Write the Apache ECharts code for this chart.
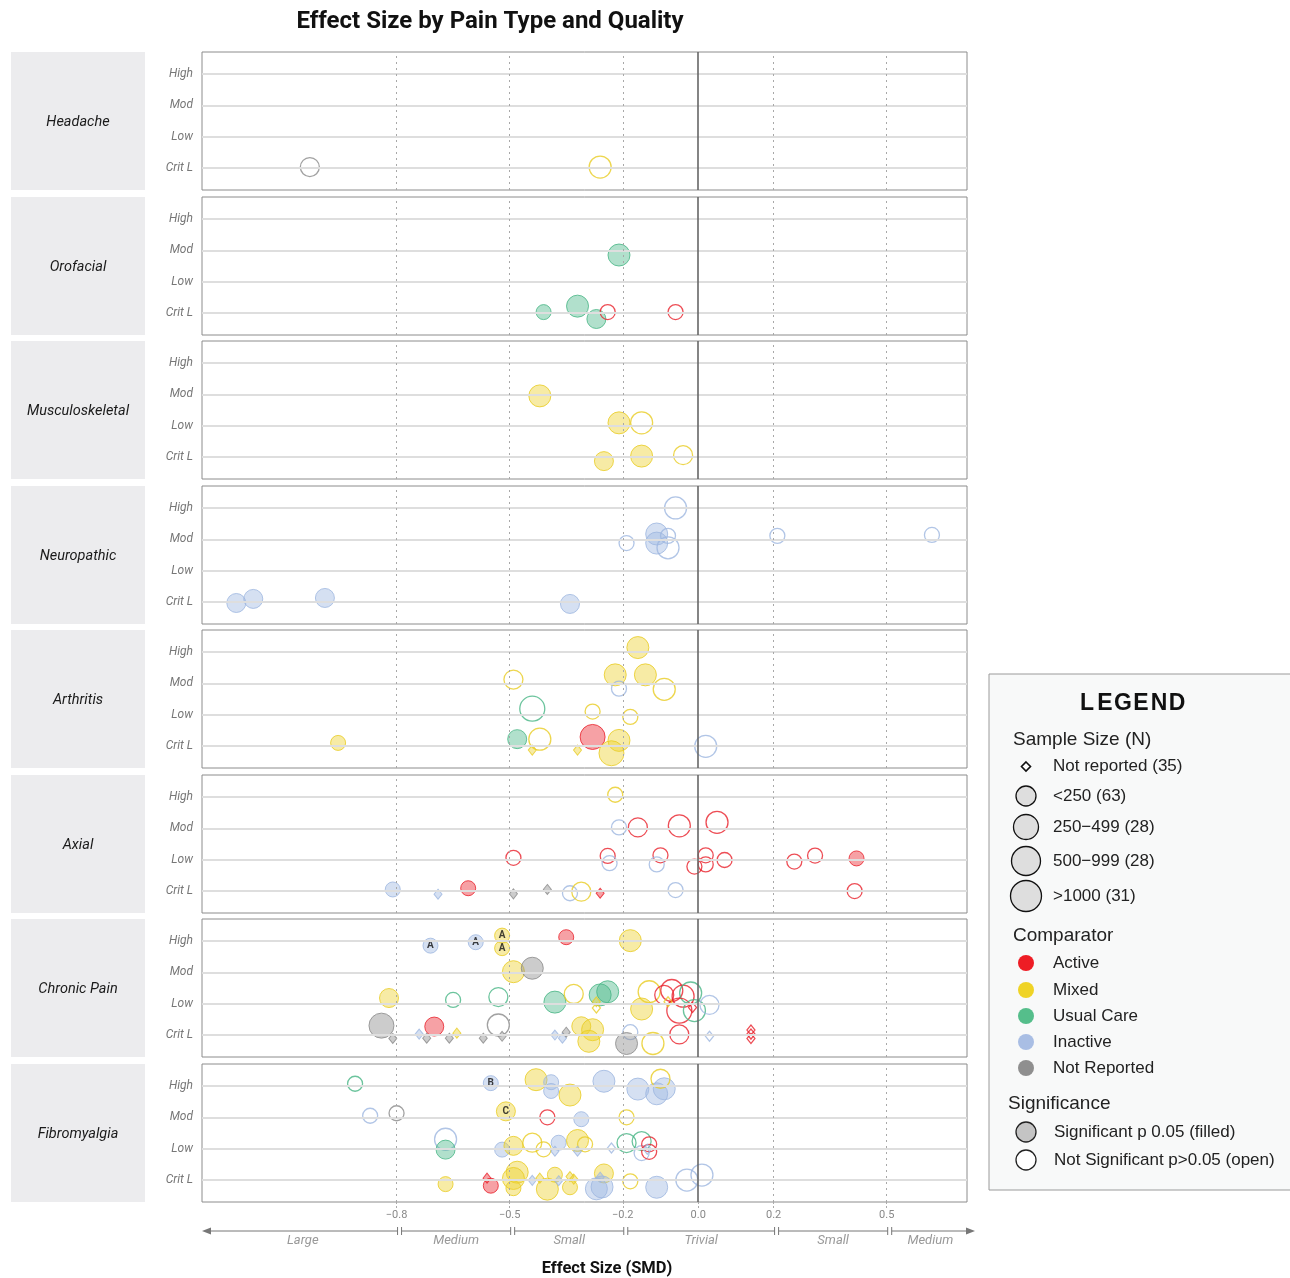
<!DOCTYPE html>
<html>
<head>
<meta charset="utf-8">
<title>Effect Size by Pain Type and Quality</title>
<script src="https://cdn.jsdelivr.net/npm/echarts@6/dist/echarts.min.js"></script>
<style>
  html, body { margin: 0; padding: 0; background: #fff; }
  #chart { width: 1290px; height: 1278px; }
</style>
</head>
<body>
<div id="chart"></div>
<script>
// ===== categories / ticks =====
const painTypes = ['Headache', 'Orofacial', 'Musculoskeletal', 'Neuropathic', 'Arthritis', 'Axial', 'Chronic Pain', 'Fibromyalgia']
const qualityLevels = ['Crit L', 'Low', 'Mod', 'High']   // y = 1..4
const effectTicks = [-0.8, -0.5, -0.2, 0, 0.2, 0.5]
const magnitudeBreaks = [-0.8, -0.5, -0.2, 0.2, 0.5]
const magnitudeLabels = ['Large', 'Medium', 'Small', 'Trivial', 'Small', 'Medium']
const sampleSizeLabels = ['Not reported (35)', '<250 (63)', '250\u2212499 (28)', '500\u2212999 (28)', '>1000 (31)']
const comparatorNames = ['Active', 'Mixed', 'Usual Care', 'Inactive', 'Not Reported']

// ===== data: [SMD, quality (jittered), N class 0..4 (0 = not reported), comparator, significant, tag] =====
const headache = [
  [-1.03, 1.03, 2, 'N', 0], [-0.26, 1.03, 3, 'M', 0],
]
const orofacial = [
  [-0.21, 2.85, 3, 'U', 1], [-0.41, 1.03, 1, 'U', 1], [-0.32, 1.22, 3, 'U', 1], [-0.27, 0.81, 2, 'U', 1],
  [-0.24, 1.03, 1, 'A', 0], [-0.06, 1.03, 1, 'A', 0],
]
const musculoskeletal = [
  [-0.42, 2.95, 3, 'M', 1], [-0.21, 2.09, 3, 'M', 1], [-0.15, 2.09, 3, 'M', 0],
  [-0.25, 0.87, 2, 'M', 1], [-0.15, 1.03, 3, 'M', 1], [-0.04, 1.06, 2, 'M', 0],
]
const neuropathic = [
  [-0.06, 4.0, 3, 'I', 0], [-0.11, 3.17, 3, 'I', 1], [-0.11, 2.88, 3, 'I', 1], [-0.08, 3.11, 1, 'I', 0],
  [-0.19, 2.88, 1, 'I', 0], [-0.08, 2.73, 3, 'I', 0], [0.21, 3.11, 1, 'I', 0], [0.62, 3.14, 1, 'I', 0],
  [-1.225, 0.97, 2, 'I', 1], [-1.18, 1.10, 2, 'I', 1], [-0.99, 1.13, 2, 'I', 1], [-0.34, 0.94, 2, 'I', 1],
]
const arthritis = [
  [-0.16, 4.14, 3, 'M', 1], [-0.22, 3.27, 3, 'M', 1], [-0.14, 3.27, 3, 'M', 1], [-0.09, 2.81, 3, 'M', 0],
  [-0.21, 2.83, 1, 'I', 0], [-0.49, 3.12, 2, 'M', 0], [-0.44, 2.19, 4, 'U', 0], [-0.28, 2.10, 1, 'M', 0],
  [-0.18, 1.93, 1, 'M', 0], [-0.48, 1.22, 2, 'U', 1], [-0.42, 1.22, 3, 'M', 0], [-0.28, 1.29, 4, 'A', 1],
  [-0.21, 1.18, 3, 'M', 1], [-0.23, 0.77, 4, 'M', 1], [-0.44, 0.87, 0, 'M', 1], [-0.32, 0.87, 0, 'M', 1],
  [0.02, 0.99, 3, 'I', 0], [-0.955, 1.1, 1, 'M', 1],
]
const axial = [
  [-0.22, 4.07, 1, 'M', 0], [-0.21, 3.03, 1, 'I', 0], [-0.16, 3.03, 2, 'A', 0], [-0.05, 3.08, 3, 'A', 0],
  [0.05, 3.19, 3, 'A', 0], [-0.49, 2.06, 1, 'A', 0], [-0.24, 2.12, 1, 'A', 0], [-0.235, 1.89, 1, 'I', 0],
  [-0.10, 2.14, 1, 'A', 0], [-0.11, 1.85, 1, 'I', 0], [0.02, 2.14, 1, 'A', 0], [0.02, 1.85, 1, 'A', 0],
  [-0.01, 1.78, 1, 'A', 0], [0.07, 1.99, 1, 'A', 0], [0.255, 1.94, 1, 'A', 0], [0.31, 2.13, 1, 'A', 0],
  [0.42, 2.04, 1, 'A', 1], [0.415, 1.0, 1, 'A', 0], [-0.81, 1.05, 1, 'I', 1], [-0.69, 0.9, 0, 'I', 1],
  [-0.61, 1.09, 1, 'A', 1], [-0.49, 0.91, 0, 'N', 1], [-0.40, 1.05, 0, 'N', 1], [-0.34, 0.93, 1, 'I', 0],
  [-0.31, 0.98, 2, 'M', 0], [-0.26, 0.93, 0, 'A', 1], [-0.06, 1.03, 1, 'I', 0],
]
const chronicPain = [
  [-0.71, 3.85, 1, 'I', 1, 'A'], [-0.59, 3.96, 1, 'I', 1, 'A'], [-0.52, 4.17, 1, 'M', 1, 'A'], [-0.52, 3.77, 1, 'M', 1, 'A'],
  [-0.35, 4.12, 1, 'A', 1], [-0.18, 4.01, 3, 'M', 1],
  [-0.49, 3.02, 3, 'M', 1], [-0.44, 3.13, 3, 'N', 1],
  [-0.82, 2.18, 2, 'M', 1], [-0.65, 2.12, 1, 'U', 0], [-0.53, 2.21, 2, 'U', 0], [-0.38, 2.05, 3, 'U', 1],
  [-0.33, 2.31, 2, 'M', 0], [-0.26, 2.28, 3, 'U', 1], [-0.24, 2.38, 3, 'U', 1], [-0.27, 2.06, 0, 'M', 1],
  [-0.27, 1.86, 0, 'M', 0], [-0.13, 2.38, 3, 'M', 0], [-0.15, 1.83, 3, 'M', 1], [-0.07, 2.42, 3, 'A', 0],
  [-0.09, 2.28, 2, 'A', 0], [-0.04, 2.24, 3, 'A', 0], [-0.02, 2.34, 3, 'U', 0], [-0.05, 1.78, 4, 'A', 0],
  [-0.01, 1.78, 3, 'U', 0], [-0.08, 2.06, 0, 'M', 0], [-0.015, 1.88, 0, 'A', 0], [0.03, 1.96, 2, 'I', 0],
  [-0.84, 1.30, 4, 'N', 1], [-0.70, 1.27, 2, 'A', 1], [-0.53, 1.32, 3, 'N', 0], [-0.81, 0.89, 0, 'N', 1],
  [-0.74, 1.03, 0, 'I', 1], [-0.72, 0.9, 0, 'N', 1], [-0.66, 0.9, 0, 'N', 1], [-0.64, 1.06, 0, 'M', 1],
  [-0.57, 0.9, 0, 'N', 1], [-0.52, 0.96, 0, 'N', 1], [-0.38, 1.0, 0, 'I', 1], [-0.36, 0.9, 0, 'I', 1],
  [-0.35, 1.09, 0, 'N', 1], [-0.31, 1.28, 2, 'M', 1], [-0.28, 1.17, 3, 'M', 1], [-0.29, 0.80, 3, 'M', 1],
  [-0.18, 1.09, 1, 'I', 0], [-0.19, 0.73, 3, 'N', 1], [-0.12, 0.73, 3, 'M', 0], [-0.05, 1.02, 2, 'A', 0],
  [0.03, 0.96, 0, 'I', 0], [0.14, 1.16, 0, 'A', 0], [0.14, 1.03, 0, 'A', 0], [0.14, 0.89, 0, 'A', 0],
]
const fibromyalgia = [
  [-0.91, 4.07, 1, 'U', 0], [-0.55, 4.09, 1, 'I', 1, 'B'], [-0.43, 4.20, 3, 'M', 1], [-0.39, 4.12, 1, 'I', 1],
  [-0.39, 3.84, 1, 'I', 1], [-0.34, 3.71, 3, 'M', 1], [-0.25, 4.15, 3, 'I', 1], [-0.16, 3.90, 3, 'I', 1],
  [-0.11, 3.75, 3, 'I', 1], [-0.09, 3.91, 3, 'I', 1], [-0.10, 4.23, 2, 'M', 0],
  [-0.87, 3.05, 1, 'I', 0], [-0.80, 3.13, 1, 'N', 0], [-0.51, 3.19, 2, 'M', 1, 'C'], [-0.40, 3.0, 1, 'A', 0],
  [-0.31, 2.94, 1, 'I', 1], [-0.19, 3.0, 1, 'M', 0],
  [-0.67, 2.30, 3, 'I', 0], [-0.67, 1.97, 2, 'U', 1], [-0.52, 1.97, 1, 'I', 1], [-0.49, 2.09, 2, 'M', 1],
  [-0.44, 2.19, 2, 'M', 0], [-0.41, 1.98, 1, 'M', 0], [-0.37, 2.19, 1, 'I', 1], [-0.38, 1.92, 0, 'I', 1],
  [-0.32, 2.26, 3, 'M', 1], [-0.30, 2.14, 1, 'M', 0], [-0.32, 1.92, 0, 'I', 1], [-0.23, 2.02, 0, 'I', 0],
  [-0.19, 2.18, 2, 'U', 0], [-0.15, 2.24, 2, 'U', 0], [-0.15, 1.86, 1, 'I', 0], [-0.13, 2.14, 1, 'A', 0],
  [-0.13, 1.90, 1, 'A', 0], [-0.135, 1.98, 0, 'I', 0],
  [-0.67, 0.87, 1, 'M', 1], [-0.56, 1.06, 0, 'A', 1], [-0.55, 0.82, 1, 'A', 1], [-0.48, 1.25, 3, 'M', 1],
  [-0.49, 1.05, 3, 'M', 1], [-0.49, 0.74, 1, 'M', 1], [-0.44, 0.99, 0, 'I', 1], [-0.42, 1.06, 0, 'M', 1],
  [-0.40, 0.71, 3, 'M', 1], [-0.38, 1.17, 1, 'M', 1], [-0.37, 0.98, 0, 'I', 1], [-0.34, 0.77, 1, 'M', 1],
  [-0.34, 1.11, 0, 'M', 1], [-0.33, 1.03, 0, 'M', 1], [-0.25, 1.21, 2, 'M', 1], [-0.26, 1.09, 0, 'I', 1],
  [-0.27, 0.72, 3, 'I', 1], [-0.255, 0.78, 3, 'I', 1], [-0.18, 0.96, 1, 'M', 0], [-0.11, 0.77, 3, 'I', 1],
  [-0.03, 1.0, 3, 'I', 0], [0.01, 1.16, 3, 'I', 0],
]
const panelData = [headache, orofacial, musculoskeletal, neuropathic, arthritis, axial, chronicPain, fibromyalgia]

// ===== styles =====
const COMP = {
  A: { line: '#E8202A', fill: 'rgba(235,40,50,0.55)', key: '#EE1D25' },
  M: { line: '#E9CC22', fill: 'rgba(236,210,50,0.55)', key: '#EFD326' },
  U: { line: '#47B584', fill: 'rgba(77,185,138,0.55)', key: '#55BE8B' },
  I: { line: '#9DB6E0', fill: 'rgba(160,184,226,0.55)', key: '#A9BEE4' },
  N: { line: '#8A8A8A', fill: 'rgba(140,140,140,0.55)', key: '#8F8F8F' },
}
const compKeys = ['A', 'M', 'U', 'I', 'N']
const SIZE = [0, 15, 19, 22, 25]
const X_MIN = -1.316, X_MAX = 0.713
const FONT = 'Roboto, "Liberation Sans", sans-serif'
const LFONT = '"Liberation Sans", Arial, sans-serif'

const panelTop = i => 52 + Math.round(i * 144.57)
const PANEL_H = 138
const GRID_L = 202, GRID_W = 765

function fmtTick(v) {
  const s = Math.abs(v).toFixed(1)
  return v < 0 ? '\u2212' + s : s
}

function toItem(p) {
  const [x, y, n, comp, sig, tag] = p
  const c = COMP[comp]
  const item = {
    value: [x, y],
    symbol: n === 0 ? 'diamond' : 'circle',
    symbolSize: n === 0 ? [8, 10] : SIZE[n],
    itemStyle: {
      color: sig ? c.fill : 'rgba(255,255,255,0)',
      borderColor: c.line,
      borderWidth: sig ? 1 : 1.3,
    },
  }
  if (tag) {
    item.label = { show: true, position: 'inside', formatter: tag, color: '#111', fontSize: 10, fontWeight: 'bold', fontFamily: FONT }
  }
  return item
}

const grid = [], xAxis = [], yAxis = [], series = []
painTypes.forEach((name, i) => {
  const isLast = i === painTypes.length - 1
  grid.push({ left: GRID_L, width: GRID_W, top: panelTop(i), height: PANEL_H, show: true, borderColor: '#8c8c8c', borderWidth: 1, backgroundColor: '#fff' })
  xAxis.push({
    gridIndex: i, type: 'value', min: X_MIN, max: X_MAX,
    splitLine: { show: false }, axisLine: { show: false },
    axisTick: { show: isLast, customValues: effectTicks, length: 7, lineStyle: { color: '#aaa', type: [2, 2] } },
    axisLabel: { show: isLast, customValues: effectTicks, formatter: fmtTick, color: '#888', fontSize: 11, fontFamily: FONT, margin: 8 },
  })
  yAxis.push({
    gridIndex: i, type: 'value', min: 0.3, max: 4.7,
    splitLine: { show: false }, axisLine: { show: false },
    axisTick: { show: true, customValues: [1, 2, 3, 4], length: 3, lineStyle: { color: '#333' } },
    axisLabel: { customValues: [1, 2, 3, 4], formatter: v => qualityLevels[Math.round(v) - 1], color: '#777', fontSize: 12, fontStyle: 'italic', fontFamily: FONT, margin: 9 },
  })
  // reference lines
  series.push({
    type: 'scatter', xAxisIndex: i, yAxisIndex: i, data: [], z: 1, silent: true,
    markLine: {
      silent: true, symbol: 'none', label: { show: false }, animation: false,
      data: [
        ...qualityLevels.map((_, k) => ({ yAxis: k + 1, lineStyle: { color: '#dedede', width: 2, type: 'solid' } })),
        ...effectTicks.filter(v => v !== 0).map(v => ({ xAxis: v, lineStyle: { color: '#a8a8a8', width: 1, type: [2, 4] } })),
        { xAxis: 0, lineStyle: { color: '#666', width: 1.6, type: 'solid' } },
      ],
    },
  })
  series.push({
    name, type: 'scatter', xAxisIndex: i, yAxisIndex: i, z: 3,
    data: panelData[i].map(toItem),
  })
})

// ===== strips, title, legend =====
const graphic = []
painTypes.forEach((name, i) => {
  graphic.push({ type: 'rect', shape: { x: 11, y: panelTop(i), width: 134, height: PANEL_H }, style: { fill: '#ECECEE' }, silent: true })
  graphic.push({ type: 'text', x: 78, y: panelTop(i) + PANEL_H / 2 + 1, style: { text: name, fill: '#1a1a1a', font: 'italic 14.5px ' + FONT, textAlign: 'center', textVerticalAlign: 'middle' } })
})
graphic.push({ type: 'text', x: 490, y: 22, style: { text: 'Effect Size by Pain Type and Quality', fill: '#111', font: 'bold 24px ' + FONT, textAlign: 'center', textVerticalAlign: 'middle' } })
graphic.push({ type: 'text', x: 607, y: 1269, style: { text: 'Effect Size (SMD)', fill: '#111', font: 'bold 16.5px ' + FONT, textAlign: 'center', textVerticalAlign: 'middle' } })

// legend box
const LX = 1026, TX = 1053
graphic.push({ type: 'rect', shape: { x: 989, y: 674, width: 320, height: 516 }, style: { fill: '#F8F9F9', stroke: '#9a9a9a', lineWidth: 1 }, silent: true })
'LEGEND'.split('').forEach((ch, k) => {
  graphic.push({ type: 'text', x: 1087 + k * 18, y: 704, style: { text: ch, fill: '#111', font: 'bold 23px ' + LFONT, textAlign: 'center', textVerticalAlign: 'middle' } })
})
const legendText = (x, y, text, size) => ({ type: 'text', x, y, style: { text, fill: '#222', font: size + 'px ' + LFONT, textVerticalAlign: 'middle' } })
graphic.push(legendText(1013, 740, 'Sample Size (N)', 19))
graphic.push({ type: 'polygon', shape: { points: [[LX, 762], [LX + 4.5, 766.5], [LX, 771], [LX - 4.5, 766.5]] }, style: { fill: '#fff', stroke: '#111', lineWidth: 1.6 } })
const sizeKeyY = [766, 796, 827, 861, 896]
const sizeKeyR = [0, 10, 12.5, 14.5, 15.5]
sampleSizeLabels.forEach((t, k) => {
  if (k > 0) graphic.push({ type: 'circle', shape: { cx: LX, cy: sizeKeyY[k], r: sizeKeyR[k] }, style: { fill: '#DEDEDE', stroke: '#111', lineWidth: 1.3 } })
  graphic.push(legendText(TX, sizeKeyY[k], t, 17))
})
graphic.push(legendText(1013, 936, 'Comparator', 19))
const compKeyY = [963, 990, 1016, 1042, 1068]
comparatorNames.forEach((t, k) => {
  graphic.push({ type: 'circle', shape: { cx: LX, cy: compKeyY[k], r: 8 }, style: { fill: COMP[compKeys[k]].key } })
  graphic.push(legendText(TX, compKeyY[k], t, 17))
})
graphic.push(legendText(1008, 1104, 'Significance', 19))
graphic.push({ type: 'circle', shape: { cx: LX, cy: 1132, r: 10 }, style: { fill: '#C4C4C4', stroke: '#222', lineWidth: 1.3 } })
graphic.push(legendText(1054, 1132, 'Significant p 0.05 (filled)', 17))
graphic.push({ type: 'circle', shape: { cx: LX, cy: 1160, r: 10 }, style: { fill: '#fff', stroke: '#222', lineWidth: 1.3 } })
graphic.push(legendText(1054, 1160, 'Not Significant p>0.05 (open)', 17))

const chart = echarts.init(document.getElementById('chart'))
chart.setOption({ animation: false, grid, xAxis, yAxis, series, graphic })

// ===== magnitude bands under the x axis =====
const last = painTypes.length - 1
const px = v => chart.convertToPixel({ xAxisIndex: last }, v)
const AY = 1231
const bounds = [GRID_L, ...magnitudeBreaks.map(px), 975]
const band = []
for (let k = 0; k < magnitudeLabels.length; k++) {
  const a = k === 0 ? bounds[0] + 6 : bounds[k] + 5
  const b = k === magnitudeLabels.length - 1 ? bounds[k + 1] - 6 : bounds[k + 1] + 1
  band.push({ type: 'line', shape: { x1: a, y1: AY, x2: b, y2: AY }, style: { stroke: '#777', lineWidth: 1 } })
  if (k > 0) band.push({ type: 'line', shape: { x1: a, y1: AY - 4, x2: a, y2: AY + 4 }, style: { stroke: '#777', lineWidth: 1 } })
  if (k < magnitudeLabels.length - 1) band.push({ type: 'line', shape: { x1: b, y1: AY - 4, x2: b, y2: AY + 4 }, style: { stroke: '#777', lineWidth: 1 } })
  band.push({ type: 'text', x: (a + b) / 2, y: AY + 10, style: { text: magnitudeLabels[k], fill: '#999', font: 'italic 13px ' + FONT, textAlign: 'center', textVerticalAlign: 'middle' } })
}
band.push({ type: 'polygon', shape: { points: [[bounds[0], AY], [bounds[0] + 9, AY - 3.5], [bounds[0] + 9, AY + 3.5]] }, style: { fill: '#777' } })
band.push({ type: 'polygon', shape: { points: [[975, AY], [966, AY - 3.5], [966, AY + 3.5]] }, style: { fill: '#777' } })
chart.setOption({ graphic: graphic.concat(band) })
</script>
</body>
</html>
